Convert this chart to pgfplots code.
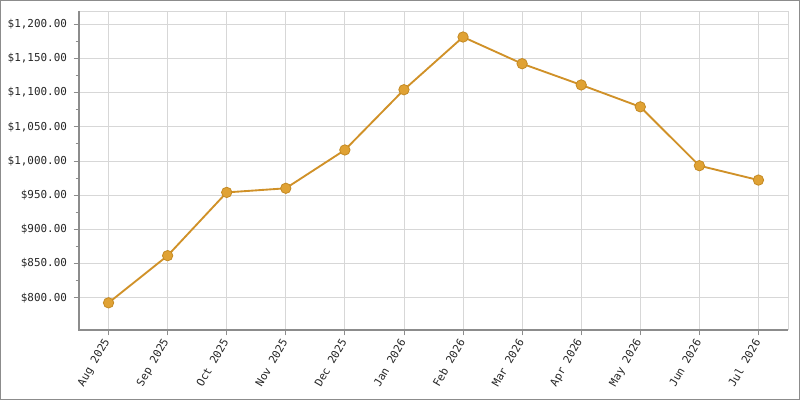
\documentclass[border=0pt]{standalone}
\usepackage{pgfplots}
\pgfplotsset{compat=1.18}
\usepackage{fontspec}
\setmonofont{DejaVu Sans Mono}
\definecolor{lineC}{RGB}{208,145,40}
\definecolor{markF}{RGB}{224,162,52}
\definecolor{markE}{RGB}{196,138,36}
\definecolor{gridC}{RGB}{215,215,215}
\definecolor{axC}{RGB}{140,140,140}
\begin{document}
\begin{tikzpicture}[x=1pt,y=1pt]
\draw[color=axC,line width=1.1pt] (0.55,0.55) rectangle (599.45,299.45);
\useasboundingbox (0,0) rectangle (600,300);
\begin{axis}[
  at={(59.25pt,52.5pt)}, anchor=south west,
  scale only axis, width=531.75pt, height=239.25pt,
  xmin=-0.5, xmax=11.5, ymin=753, ymax=1219,
  xtick={0,...,11},
  xticklabels={Aug 2025,Sep 2025,Oct 2025,Nov 2025,Dec 2025,Jan 2026,Feb 2026,Mar 2026,Apr 2026,May 2026,Jun 2026,Jul 2026},
  ytick={800,850,...,1200},
  minor y tick num=1,
  yticklabel={\$\pgfmathprintnumber[fixed,fixed zerofill,precision=2,1000 sep={,}]{\tick}},
  /pgf/number format/assume math mode=true,
  ticklabel style={font=\ttfamily\fontsize{8.2}{10}\selectfont, color=black!85},
  yticklabel style={xshift=-1.5pt},
  xticklabel style={rotate=60, anchor=east, yshift=-1pt},
  tick align=outside, tick pos=left,
  major tick length=4pt, minor tick length=2.5pt,
  tick style={color=axC, line width=0.6pt},
  grid=major, major grid style={color=gridC, line width=0.6pt},
  axis line style={color=gridC, line width=0.6pt},
  axis x line*=bottom, axis y line*=left,
  clip=false,
]
\draw[color=gridC,line width=0.6pt] (rel axis cs:0,1) -- (rel axis cs:1,1) -- (rel axis cs:1,0);
\draw[color=axC,line width=0.8pt] (rel axis cs:0,1) -- (rel axis cs:0,0) -- (rel axis cs:1,0);
\addplot[color=lineC, line width=1.4pt, mark=*, mark size=3.9pt,
  mark options={fill=markF, draw=markE, line width=0.6pt}]
  coordinates {(0,792.7) (1,861.6) (2,954) (3,960) (4,1016) (5,1104) (6,1181) (7,1142) (8,1111) (9,1079) (10,993) (11,972)};
\end{axis}
\end{tikzpicture}
\end{document}
